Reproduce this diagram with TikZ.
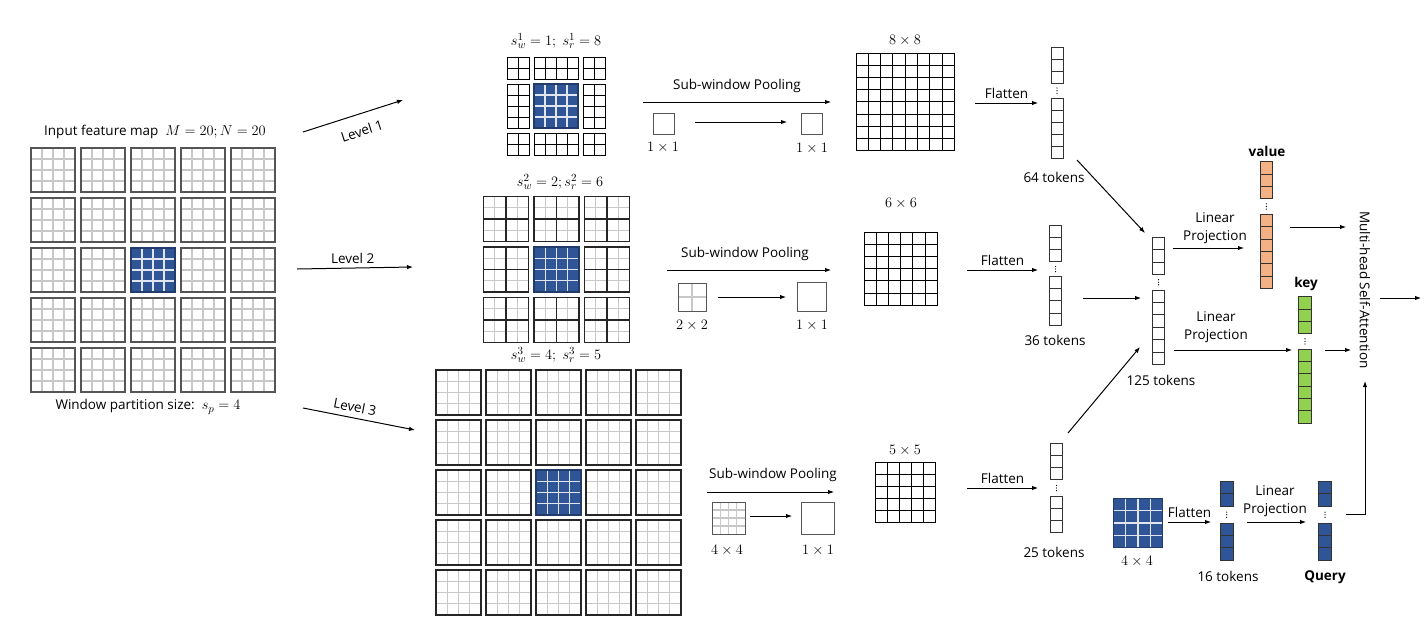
\documentclass[tikz,border=0pt]{standalone}
\usepackage{fontspec}
\setmainfont{Open Sans}
\usetikzlibrary{arrows.meta}
\definecolor{qblue}{HTML}{2F5597}
\definecolor{vorange}{HTML}{F4B183}
\definecolor{kgreen}{HTML}{92D050}
\definecolor{lgray}{HTML}{C8C8C8}
\definecolor{dgray}{HTML}{555555}
\newcommand\mf[1]{{\fontsize{15.5}{17}\selectfont$#1$}}
\tikzset{
  lgl/.style={draw=lgray,line width=1.1pt},
  wl/.style={draw=white!85!qblue,line width=1.1pt},
  winb/.style={draw=dgray,line width=1.4pt},
  bkb/.style={draw=black!85,line width=1.3pt},
  bl/.style={draw=black,line width=1pt},
  tl/.style={draw=black!80,line width=1pt},
  arr/.style={-{Latex[length=6pt,width=4.5pt]},line width=1pt,draw=black},
  lbl/.style={font=\fontsize{13.5}{18}\selectfont,inner sep=1pt},
  bold/.style={font=\fontsize{13.5}{18}\selectfont\bfseries,inner sep=1pt},
}
\newcommand\cg[7]{%
  \pgfmathtruncatemacro\cgnx{#3-1}%
  \pgfmathtruncatemacro\cgny{#4-1}%
  \ifnum\cgnx>0 \foreach \k in {1,...,\cgnx}{\draw[#7] ({#1+\k*(#5)},{#2}) -- ++(0,{#4*(#6)});}\fi
  \ifnum\cgny>0 \foreach \k in {1,...,\cgny}{\draw[#7] ({#1},{#2+\k*(#6)}) -- ++({#3*(#5)},0);}\fi
}
\newcommand\gwin[4]{%
  \cg{#1}{#2}{4}{4}{#3/4}{#3/4}{lgl}
  \draw[#4] (#1,#2) rectangle ++(#3,#3);}
\newcommand\bwin[3]{%
  \fill[qblue] (#1,#2) rectangle ++(#3,#3);
  \cg{#1}{#2}{4}{4}{#3/4}{#3/4}{wl}
  \draw[draw=qblue!70!black,line width=1.2pt] (#1,#2) rectangle ++(#3,#3);}
\newcommand\bk[4]{%
  \cg{#1}{#2}{#3}{#4}{11}{11}{bl}
  \draw[bl] (#1,#2) rectangle ++({#3*11},{#4*11});}
\newcommand\ltwo[2]{%
  \cg{#1}{#2}{4}{4}{11.25}{11.25}{lgl}
  \cg{#1}{#2}{2}{2}{22.5}{22.5}{bkb}
  \draw[bkb] (#1,#2) rectangle ++(45,45);}
\newcommand\tokcol[8]{%
  \fill[#8] (#1,#3) rectangle ++(#2,{#4*(#7)});
  \cg{#1}{#3}{1}{#4}{#2}{#7}{tl}
  \draw[tl] (#1,#3) rectangle ++(#2,{#4*(#7)});
  \fill[#8] (#1,#5) rectangle ++(#2,{#6*(#7)});
  \cg{#1}{#5}{1}{#6}{#2}{#7}{tl}
  \draw[tl] (#1,#5) rectangle ++(#2,{#6*(#7)});
  \foreach \d in {-2.6,0,2.6}{\fill ({#1+(#2)/2},{(#3+#4*(#7)+#5)/2+\d}) circle[radius=0.65pt];}
}
\begin{document}
\begin{tikzpicture}[x=1pt,y=-1pt]
\useasboundingbox (0,0) rectangle (1427,627);
\fill[white] (0,0) rectangle (1427,627);

% ---------------- input feature map
\foreach \i in {0,...,4}{\foreach \j in {0,...,4}{%
  \pgfmathsetmacro\xx{31+50*\i}\pgfmathsetmacro\yy{148+50*\j}
  \gwin{\xx}{\yy}{44}{winb}}}
\bwin{131}{248}{44}
\node[lbl] (intitle) at (155,132) {Input feature map\ \ \mf{M=20;N=20}};
\node[lbl] (sp) at (148,407) {Window partition size:\ \ \mf{s_p=4}};
\node[inner sep=0,minimum size=244pt] (inmap) at (153,270) {};

% ---------------- level arrows
\coordinate (l1s) at (303,132); \coordinate (l1e) at (403,100);
\coordinate (l2s) at (297,269); \coordinate (l2e) at (413,267);
\coordinate (l3s) at (303,408); \coordinate (l3e) at (415,430);
\draw[arr] (l1s) -- (l1e);
\node[lbl,rotate=17.7] (lv1) at (362,131) {Level 1};
\draw[arr] (l2s) -- node[lbl,above=3pt,pos=0.48] {Level 2} (l2e);
\draw[arr] (l3s) -- (l3e);
\node[lbl,rotate=-11] (lv3) at (355,407) {Level 3};

% ---------------- level 1 grid
\node[lbl] (t1) at (556,41) {\mf{s_w^1=1;\ s_r^1=8}};
\bk{507}{57}{2}{2}\bk{534}{57}{4}{2}\bk{583}{57}{2}{2}
\bk{507}{84}{2}{4}\bk{583}{84}{2}{4}
\bk{507}{133}{2}{2}\bk{534}{133}{4}{2}\bk{583}{133}{2}{2}
\bwin{534}{84}{44}

% ---------------- level 2 grid
\node[lbl] (t2) at (560,182) {\mf{s_w^2=2;s_r^2=6}};
\foreach \i in {0,1,2}{\foreach \j in {0,1,2}{%
  \pgfmathsetmacro\xx{483.5+50.5*\i}\pgfmathsetmacro\yy{196.5+50.5*\j}
  \ltwo{\xx}{\yy}}}
\bwin{534}{247}{45}

% ---------------- level 3 grid
\node[lbl] (t3) at (556,355) {\mf{s_w^3=4;\ s_r^3=5}};
\foreach \i in {0,...,4}{\foreach \j in {0,...,4}{%
  \pgfmathsetmacro\xx{436+50*\i}\pgfmathsetmacro\yy{370+50*\j}
  \gwin{\xx}{\yy}{45}{bkb}}}
\bwin{536}{470}{45}

% ---------------- sub-window pooling level 1
\node[lbl] (sp1) at (737,86) {Sub-window Pooling};
\coordinate (p1s) at (643,102); \coordinate (p1e) at (831,102);
\draw[arr] (p1s) -- (p1e);
\draw[winb,line width=1pt] (653,113) rectangle ++(21,21);
\draw[winb,line width=1pt] (801,113) rectangle ++(21,21);
\coordinate (m1s) at (695,122); \coordinate (m1e) at (787,122);
\draw[arr] (m1s) -- (m1e);
\node[lbl] (a1) at (663,147) {\mf{1\times1}};
\node[lbl] (b1) at (812,148) {\mf{1\times1}};

% ---------------- sub-window pooling level 2
\node[lbl] (sp2) at (745,254) {Sub-window Pooling};
\coordinate (p2s) at (667,270); \coordinate (p2e) at (831,270);
\draw[arr] (p2s) -- (p2e);
\cg{678}{283}{2}{2}{14}{14}{lgl}
\draw[winb,line width=1pt] (678,283) rectangle ++(28,28);
\draw[winb,line width=1pt] (797,282) rectangle ++(29,29);
\coordinate (m2s) at (718,297); \coordinate (m2e) at (786,297);
\draw[arr] (m2s) -- (m2e);
\node[lbl] (a2) at (692,325) {\mf{2\times2}};
\node[lbl] (b2) at (812,325) {\mf{1\times1}};

% ---------------- sub-window pooling level 3
\node[lbl] (sp3) at (773,475) {Sub-window Pooling};
\coordinate (p3s) at (707,492); \coordinate (p3e) at (834,492);
\draw[arr] (p3s) -- (p3e);
\cg{712}{502}{4}{4}{8.25}{8}{lgl}
\draw[winb,line width=1pt] (712,502) rectangle ++(33,32);
\draw[winb,line width=1pt] (801,502) rectangle ++(33,32);
\coordinate (m3s) at (750,516); \coordinate (m3e) at (792,516);
\draw[arr] (m3s) -- (m3e);
\node[lbl] (a3) at (727,550) {\mf{4\times4}};
\node[lbl] (b3) at (818,550) {\mf{1\times1}};

% ---------------- pooled maps
\node[lbl] (g8) at (905,40) {\mf{8\times8}};
\cg{856}{53}{8}{8}{12.3}{12.2}{bl}
\draw[bl] (856,53) rectangle ++(98.4,97.6);
\node[lbl] (g6) at (901,203) {\mf{6\times6}};
\cg{864}{232}{6}{6}{12.2}{12.2}{bl}
\draw[bl] (864,232) rectangle ++(73.2,73.2);
\node[lbl] (g5) at (905,450) {\mf{5\times5}};
\cg{875}{462}{5}{5}{12}{12}{bl}
\draw[bl] (875,462) rectangle ++(60,60);

% ---------------- flatten
\coordinate (f1s) at (975,103); \coordinate (f1e) at (1038,103);
\draw[arr] (f1s) -- node[lbl,above=3pt] {Flatten} (f1e);
\coordinate (f2s) at (967,270); \coordinate (f2e) at (1038,270);
\draw[arr] (f2s) -- node[lbl,above=3pt] {Flatten} (f2e);
\coordinate (f3s) at (967,488); \coordinate (f3e) at (1038,488);
\draw[arr] (f3s) -- node[lbl,above=3pt] {Flatten} (f3e);

\tokcol{1051}{12}{47}{3}{98.3}{5}{12}{white}
\node[lbl] (n64) at (1054,177) {64 tokens};
\tokcol{1049.5}{12}{225}{3}{276.7}{4}{12.1}{white}
\node[lbl] (n36) at (1055,340) {36 tokens};
\tokcol{1050.5}{12}{443.3}{3}{496.7}{3}{12}{white}
\node[lbl] (n25) at (1054,552) {25 tokens};

% ---------------- concat 125
\tokcol{1152.7}{11.6}{237.3}{3}{290}{6}{12.4}{white}
\node[lbl] (n125) at (1161,380) {125 tokens};
\coordinate (c1s) at (1077,160); \coordinate (c1e) at (1145,233);
\coordinate (c2s) at (1083,298); \coordinate (c2e) at (1141,298);
\coordinate (c3s) at (1068,433); \coordinate (c3e) at (1140,347);
\draw[arr] (c1s) -- (c1e);
\draw[arr] (c2s) -- (c2e);
\draw[arr] (c3s) -- (c3e);

% ---------------- value / key
\coordinate (lvs) at (1173,248); \coordinate (lve) at (1244,248);
\draw[arr] (lvs) -- (lve);
\node[lbl,align=center] (lpv) at (1215,228) {Linear\\Projection};
\coordinate (lks) at (1174,350); \coordinate (lke) at (1292,350);
\draw[arr] (lks) -- (lke);
\node[lbl,align=center] (lpk) at (1216,327) {Linear\\Projection};

\tokcol{1260}{12.7}{161.7}{3}{214.3}{6}{12.35}{vorange}
\node[bold] (val) at (1267,151) {value};
\tokcol{1298.3}{13.4}{296.7}{3}{349.3}{6}{12.3}{kgreen}
\node[bold] (key) at (1306,284) {key};

\coordinate (vms) at (1290,227); \coordinate (vme) at (1346,227);
\draw[arr] (vms) -- (vme);
\coordinate (kms) at (1325,350); \coordinate (kme) at (1351,350);
\draw[arr] (kms) -- (kme);

\node[lbl,rotate=-90] (mhsa) at (1365,290) {Multi-head Self-Attention};
\coordinate (outs) at (1380,298); \coordinate (oute) at (1421,298);
\draw[arr] (outs) -- (oute);

% ---------------- query branch
\bwin{1113.5}{498.5}{49}
\node[lbl] (q44) at (1137,561) {\mf{4\times4}};
\coordinate (qfs) at (1168,522); \coordinate (qfe) at (1211,522);
\draw[arr] (qfs) -- node[lbl,above=3pt] {Flatten} (qfe);
\tokcol{1220}{13.3}{481.7}{2}{523.3}{3}{12.25}{qblue}
\node[lbl] (n16) at (1228,576) {16 tokens};
\coordinate (qls) at (1247,522); \coordinate (qle) at (1306,522);
\draw[arr] (qls) -- (qle);
\node[lbl,align=center] (lpq) at (1275,501) {Linear\\Projection};
\tokcol{1318.3}{13.4}{481.7}{2}{523.3}{3}{12.25}{qblue}
\node[bold] (qry) at (1325,577) {Query};
\coordinate (qms) at (1346,514); \coordinate (qmc) at (1365,514); \coordinate (qme) at (1365,381);
\draw[arr] (qms) -- (qmc) -- (qme);
\end{tikzpicture}
\end{document}
